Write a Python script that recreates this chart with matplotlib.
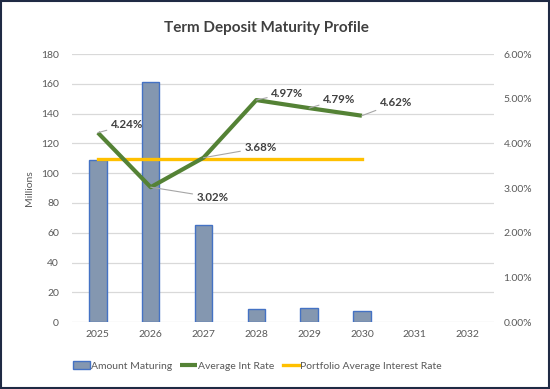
import matplotlib
matplotlib.use("Agg")
import matplotlib.pyplot as plt
import numpy as np

plt.rcParams['font.family'] = ['Lato', 'DejaVu Sans']

# Data
years = ['2025', '2026', '2027', '2028', '2029', '2030', '2031', '2032']
amount = [109, 161, 65, 8.7, 9.6, 7.4, 0, 0]
avg_rate = [4.24, 3.02, 3.68, 4.97, 4.79, 4.62]
portfolio_rate = [3.66, 3.66, 3.66, 3.66, 3.66, 3.66]
# label offsets in pixels (text left-centre relative to point)
label_offsets = [(13, 8), (46, -10), (41, 10), (15, 7), (14, 9), (18, 13)]

x = np.arange(len(years))
xr = np.arange(len(avg_rate))

fig = plt.figure(figsize=(5.5, 3.89), dpi=100)
ax = fig.add_axes([0.13, 0.172, 0.768, 0.689])
ax2 = ax.twinx()

ax.set_zorder(1)
ax2.set_zorder(2)
ax.patch.set_visible(False)

edge_w = [1.0 if a > 0 else 0 for a in amount]
bars = ax.bar(x, amount, width=0.33, color='#8497B0', edgecolor='#4472C4', linewidth=edge_w, zorder=3)
ax.set_ylim(0, 180)
ax.set_yticks(np.arange(0, 181, 20))
ax.set_xlim(-0.5, len(years) - 0.5)
ax.set_xticks(x)
ax.set_xticklabels(years)
ax.grid(axis='y', color='#D9D9D9', linewidth=0.9, zorder=0)
ax.set_ylabel('Millions', color='#595959', fontsize=7.5, labelpad=5)

rate = np.array(avg_rate) / 100
line1, = ax2.plot(xr, rate, color='#548235', linewidth=3.0, solid_capstyle='butt', zorder=4)
line2, = ax2.plot(xr, np.array(portfolio_rate) / 100, color='#FFC000', linewidth=2.4, zorder=3)
ax2.set_ylim(0, 0.06)
ax2.set_yticks(np.arange(0, 0.061, 0.01))
ax2.set_yticklabels(['%.2f%%' % (v * 100) for v in np.arange(0, 0.061, 0.01)])

for a in (ax, ax2):
    for s in a.spines.values():
        s.set_visible(False)
    a.tick_params(length=0, labelsize=7.5, labelcolor='#595959')
ax.tick_params(axis='y', pad=9)
ax.tick_params(axis='x', pad=6)
ax2.tick_params(axis='y', pad=7)

for xi, v, off in zip(xr, avg_rate, label_offsets):
    ax2.annotate('%.2f%%' % v, xy=(xi, v / 100), xytext=off, textcoords='offset pixels',
                 ha='left', va='center', fontsize=8.3, fontweight='bold', color='#404040',
                 arrowprops=dict(arrowstyle='-', color='#A6A6A6', linewidth=0.8,
                                 shrinkA=1, shrinkB=0), zorder=6)

fig.suptitle('Term Deposit Maturity Profile', x=0.484, y=0.945, fontsize=11,
             fontweight='bold', color='#404040')

fig.legend([bars, line1, line2],
           ['Amount Maturing', 'Average Int Rate', 'Portfolio Average Interest Rate'],
           loc='center', bbox_to_anchor=(0.468, 0.059), ncol=3, frameon=False,
           fontsize=7.5, labelcolor='#595959', handlelength=1.6, handletextpad=0.1,
           columnspacing=0.8)

fig.patches.append(plt.Rectangle((0.002, 0.003), 0.996, 0.994, transform=fig.transFigure,
                                 fill=False, edgecolor='#1F2A44', linewidth=1.5))

fig.savefig('out.png', dpi=100)
